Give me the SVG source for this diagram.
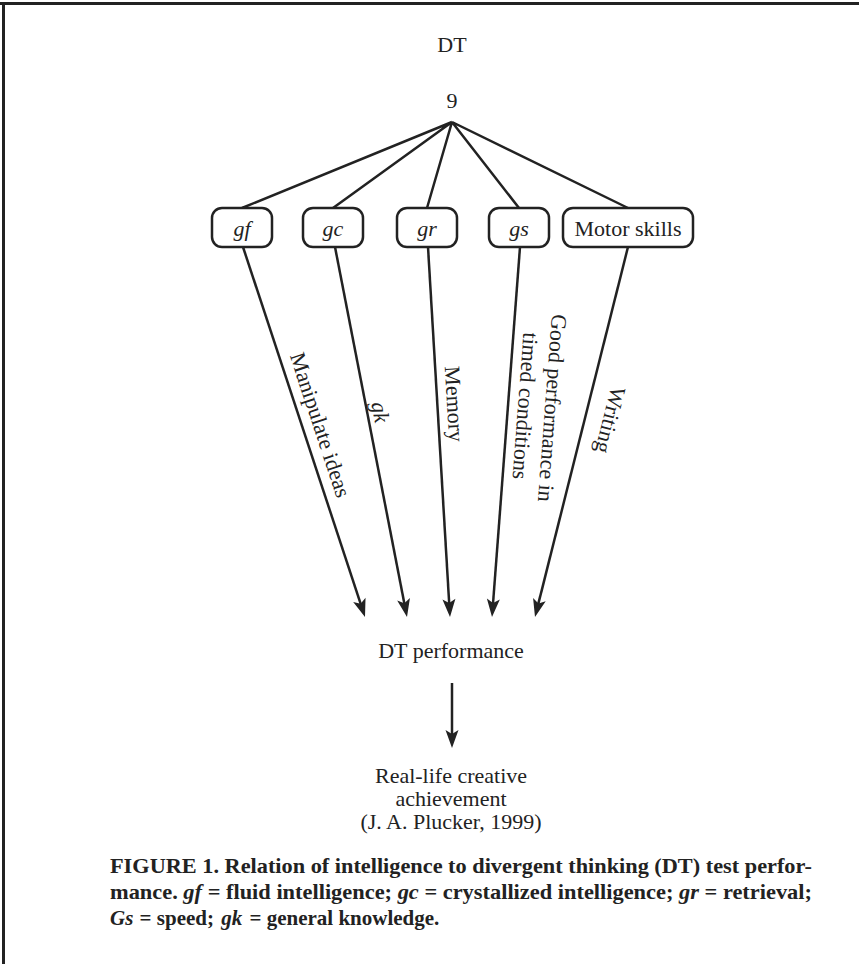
<svg xmlns="http://www.w3.org/2000/svg" width="859" height="964" viewBox="0 0 859 964">
<style>
.t{font-family:"Liberation Serif","Times New Roman",serif;font-size:22px;fill:#222;}
.i{font-style:italic;}
.box{fill:#fff;stroke:#222;stroke-width:2.5;}
.ln{stroke:#222;stroke-width:2.5;fill:none;}
.arr{marker-end:url(#ah);}
.cap{font-family:"Liberation Serif","Times New Roman",serif;font-size:21px;font-weight:bold;fill:#222;}
</style>
<defs>
<marker id="ah" markerUnits="userSpaceOnUse" orient="auto" refX="0" refY="0" markerWidth="40" markerHeight="40" overflow="visible">
<path d="M12,0 L-6,-6.5 L-2,0 L-6,6.5 Z" fill="#222"/>
</marker>
</defs>
<rect width="859" height="964" fill="#fff"/>
<path d="M0,3.5 H859 M3.5,2 V964" stroke="#222" stroke-width="3" fill="none"/>

<g id="dt-top"><text class="t" x="452" y="52" text-anchor="middle">DT</text></g>
<g id="nine"><text class="t" x="452" y="108" text-anchor="middle">9</text></g>

<g id="connectors">
<path class="ln" d="M452,122 L242,208 M452,122 L333,208 M452,122 L427,208 M452,122 L519,208 M452,122 L628,208"/>
<path class="ln arr" d="M243,247 L361.24,605.6"/>
<path class="ln arr" d="M335,247 L404.71,605.22"/>
<path class="ln arr" d="M428,247 L449.29,605.02"/>
<path class="ln arr" d="M520,247 L492.91,605.03"/>
<path class="ln arr" d="M628,247 L537.93,605.36"/>
<path class="ln arr" d="M452,683 L452,736"/>
<g transform="translate(320,425) rotate(71.7)"><text class="t" x="0" y="7" text-anchor="middle">Manipulate ideas</text></g>
<g transform="translate(380,412) rotate(79)"><text class="t i" x="0" y="7" text-anchor="middle">gk</text></g>
<g transform="translate(454,404) rotate(86.6)"><text class="t" x="0" y="7" text-anchor="middle">Memory</text></g>
<g transform="translate(538.5,407) rotate(94.3)"><text class="t" x="0" y="-6.5" text-anchor="middle">Good performance in</text><text class="t" x="0" y="20.5" text-anchor="middle">timed conditions</text></g>
<g transform="translate(610,420) rotate(104.1)"><text class="t" x="0" y="7" text-anchor="middle">Writing</text></g>
</g>

<g id="gf"><rect class="box" x="212" y="208" width="60" height="39" rx="10"/><text class="t i" x="242" y="236" text-anchor="middle">gf</text></g>
<g id="gc"><rect class="box" x="303" y="208" width="60" height="39" rx="10"/><text class="t i" x="333" y="236" text-anchor="middle">gc</text></g>
<g id="gr"><rect class="box" x="397" y="208" width="60" height="39" rx="10"/><text class="t i" x="427" y="236" text-anchor="middle">gr</text></g>
<g id="gs"><rect class="box" x="489" y="208" width="60" height="39" rx="10"/><text class="t i" x="519" y="236" text-anchor="middle">gs</text></g>
<g id="motor"><rect class="box" x="563" y="208" width="130" height="39" rx="10"/><text class="t" x="628" y="236" text-anchor="middle">Motor skills</text></g>

<g id="dt-performance"><text class="t" x="451" y="658" text-anchor="middle">DT performance</text></g>
<g id="achievement"><text class="t" text-anchor="middle"><tspan x="451" y="783">Real-life creative</tspan><tspan x="451" y="806">achievement</tspan><tspan x="451" y="829">(J. A. Plucker, 1999)</tspan></text></g>

<g id="caption">
<text class="cap" x="110" y="873" textLength="702" lengthAdjust="spacingAndGlyphs">FIGURE 1. Relation of intelligence to divergent thinking (DT) test perfor-</text>
<text class="cap" x="110" y="899" textLength="702" lengthAdjust="spacingAndGlyphs">mance. <tspan font-style="italic">gf</tspan> = fluid intelligence; <tspan font-style="italic">gc</tspan> = crystallized intelligence; <tspan font-style="italic">gr</tspan> = retrieval;</text>
<text class="cap" x="110" y="925"><tspan font-style="italic">Gs</tspan><tspan dx="1"> = speed; </tspan><tspan font-style="italic" dx="2">gk</tspan><tspan dx="2"> = general knowledge.</tspan></text>
</g>
</svg>
